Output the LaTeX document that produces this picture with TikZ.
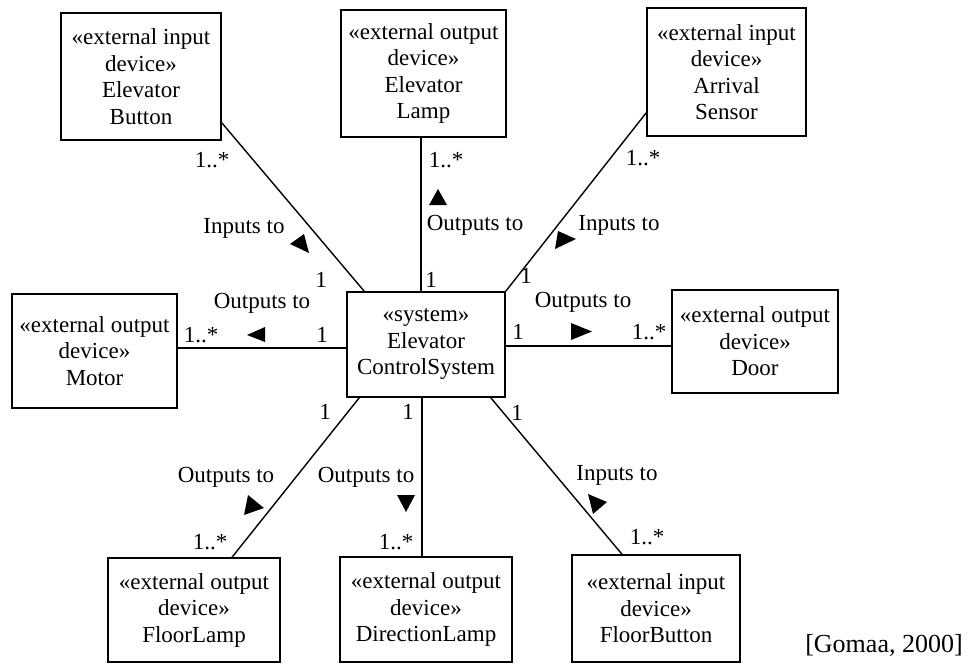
\documentclass[tikz,border=0pt]{standalone}
\usepackage{fontspec}
\setmainfont{Liberation Serif}
\tikzset{
  box/.style={draw, line width=1.5pt, align=center, inner sep=0pt, font=\fontsize{23}{26.5}\selectfont},
  lbl/.style={inner sep=0pt, font=\fontsize{23}{26.5}\selectfont},
  conn/.style={line width=1.4pt},
  tri/.style={fill=black}
}
\begin{document}
\begin{tikzpicture}[x=1pt,y=-1pt]
\useasboundingbox (0,0) rectangle (973,664);
% boxes
\node[box, minimum width=160pt, minimum height=127pt] (eb) at (141,76.5) {«external input\\device»\\Elevator\\Button};
\node[box, minimum width=165pt, minimum height=127pt] (el) at (423.5,73.5) {«external output\\device»\\Elevator\\Lamp};
\node[box, minimum width=159pt, minimum height=128pt] (as) at (726.5,72) {«external input\\device»\\Arrival\\Sensor};
\node[box, minimum width=165pt, minimum height=114pt] (motor) at (94.5,351) {«external output\\device»\\Motor};
\node[box, minimum width=158pt, minimum height=105pt] (sys) at (426,344.5) {«system»\\Elevator\\ControlSystem};
\node[box, minimum width=166pt, minimum height=103pt] (door) at (755,341.5) {«external output\\device»\\Door};
\node[box, minimum width=172pt, minimum height=104pt] (fl) at (194,610) {«external output\\device»\\FloorLamp};
\node[box, minimum width=172pt, minimum height=105pt] (dl) at (426,609.5) {«external output\\device»\\DirectionLamp};
\node[box, minimum width=168pt, minimum height=107pt] (fb) at (656,608.5) {«external input\\device»\\FloorButton};
% connectors
\draw[conn] ([yshift=18pt]eb.south east) -- ([xshift=18pt]sys.north west);
\draw[conn] ([xshift=-2.5pt]el.south) -- ([xshift=-2.5pt]el.south |- sys.north);
\draw[conn] ([yshift=24pt]as.south west) -- (sys.north east);
\draw[conn] ([yshift=3pt]motor.east) -- ([yshift=3pt]motor.east -| sys.west);
\draw[conn] ([yshift=-4.5pt]door.west) -- ([yshift=-4.5pt]door.west -| sys.east);
\draw[conn] ([xshift=13pt]sys.south west) -- ([xshift=38pt]fl.north);
\draw[conn] ([xshift=-4pt]dl.north) -- ([xshift=-4pt]dl.north |- sys.south);
\draw[conn] ([xshift=-15pt]sys.south east) -- ([xshift=-34pt]fb.north);
% direction triangles
\fill[tri] (290,244) -- (304,234) -- (309,253) -- cycle;
\fill[tri] (558,231) -- (576,239) -- (555,249) -- cycle;
\fill[tri] (248,495) -- (264,508) -- (244,515) -- cycle;
\fill[tri] (588,494) -- (607,502) -- (593,514) -- cycle;
\fill[tri] (247,335) -- (265,327) -- (265,342) -- cycle;
\fill[tri] (592,331.5) -- (571,323) -- (571,340) -- cycle;
\fill[tri] (438,189) -- (429,205) -- (447,205) -- cycle;
\fill[tri] (406,512) -- (397,495) -- (415,495) -- cycle;
% labels
\node[lbl] (m1) at (212,160) {1..*};
\node[lbl] (n1) at (244,228) {Inputs to};
\node[lbl] (s1) at (321,280) {1};
\node[lbl] (m2) at (446,160) {1..*};
\node[lbl] (n2) at (475,225) {Outputs to};
\node[lbl] (s2) at (431,280) {1};
\node[lbl] (m3) at (643,158) {1..*};
\node[lbl] (n3) at (619,225) {Inputs to};
\node[lbl] (s3) at (526,276) {1};
\node[lbl] (n4) at (262,303) {Outputs to};
\node[lbl] (m4) at (201,335) {1..*};
\node[lbl] (s4) at (322,335) {1};
\node[lbl] (n5) at (583,302) {Outputs to};
\node[lbl] (s5) at (518,332) {1};
\node[lbl] (m5) at (649,332) {1..*};
\node[lbl] (s6) at (325,412) {1};
\node[lbl] (n6) at (226,477) {Outputs to};
\node[lbl] (m6) at (210,542) {1..*};
\node[lbl] (s7) at (408,412) {1};
\node[lbl] (n7) at (366,477) {Outputs to};
\node[lbl] (m7) at (396,542) {1..*};
\node[lbl] (s8) at (517,413) {1};
\node[lbl] (n8) at (617,475) {Inputs to};
\node[lbl] (m8) at (647,537) {1..*};
\node[lbl, font=\fontsize{26}{30}\selectfont] (src) at (884,645) {[Gomaa, 2000]};
\end{tikzpicture}
\end{document}
